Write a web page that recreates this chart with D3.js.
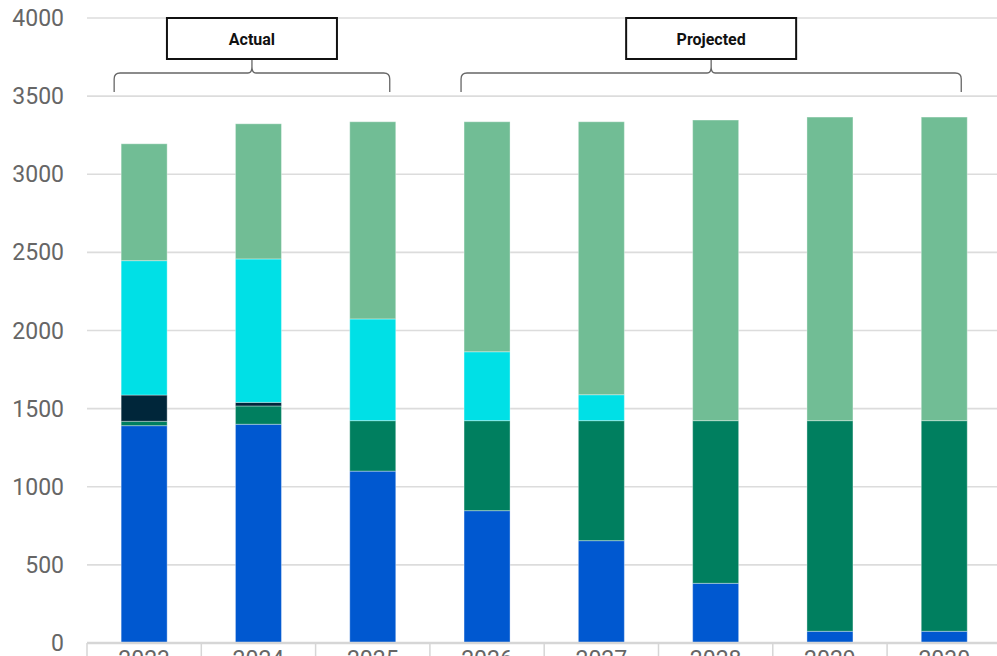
<!DOCTYPE html>
<html>
<head>
    <title>Stacked</title>
    <script src="https://cdn.jsdelivr.net/npm/d3@7"></script>
    <style>
        body { margin: 0; background: #fff; }
    </style>
</head>
<body>
    <svg width="997" height="656" id="mainsvg"></svg>
    <script>
        // data
        const years = ['2023', '2024', '2025', '2026', '2027', '2028', '2029', '2030'];
        const blue = [1391, 1400, 1100, 847, 655, 382, 75, 75];
        const darkGreen = [28, 117, 323, 576, 768, 1041, 1348, 1348];
        const navy = [168, 23, 0, 0, 0, 0, 0, 0];
        const cyan = [860, 918, 651, 441, 166, 0, 0, 0];
        const lightGreen = [748, 865, 1262, 1472, 1747, 1924, 1943, 1943];
        const seriesNames = ['blue', 'darkGreen', 'navy', 'cyan', 'lightGreen'];
        const seriesColors = ['#0058d0', '#007f5f', '#00263a', '#00e0e6', '#71bd95'];
        const yTicks = [0, 500, 1000, 1500, 2000, 2500, 3000, 3500, 4000];
        const groups = [
            { label: 'Actual', from: '2023', to: '2025' },
            { label: 'Projected', from: '2026', to: '2030' }
        ];

        const svg = d3.select('svg');
        const margin = { left: 87, top: 18, bottom: 643 };
        const plotRight = 87 + 114.3 * years.length;

        const table = years.map((y, i) => ({
            year: y, blue: blue[i], darkGreen: darkGreen[i], navy: navy[i], cyan: cyan[i], lightGreen: lightGreen[i]
        }));
        const stacked = d3.stack().keys(seriesNames)(table);

        const x = d3.scaleBand().domain(years).range([margin.left, plotRight]).paddingInner(0).paddingOuter(0);
        const y = d3.scaleLinear().domain([0, 4000]).range([margin.bottom, margin.top]);
        const barW = 46;

        // gridlines
        svg.selectAll('.grid').data(yTicks.filter(d => d > 0)).join('line').attr('class', 'grid')
            .attr('x1', margin.left).attr('x2', 997)
            .attr('y1', d => y(d)).attr('y2', d => y(d))
            .attr('stroke', '#dcdcdc').attr('stroke-width', 1.6);

        // y labels
        svg.selectAll('.ylab').data(yTicks).join('text').attr('class', 'ylab')
            .attr('x', 64).attr('y', d => y(d)).attr('dy', '0.35em')
            .attr('text-anchor', 'end')
            .attr('font-family', 'Roboto, sans-serif').attr('font-size', 23)
            .attr('fill', '#666')
            .text(d => d);

        // bars
        svg.selectAll('.layer').data(stacked).join('g').attr('class', 'layer')
            .attr('fill', (d, i) => seriesColors[i])
            .selectAll('rect').data(d => d.filter(p => p[1] - p[0] > 0)).join('rect')
            .attr('x', d => x(d.data.year) + (x.bandwidth() - barW) / 2)
            .attr('width', barW)
            .attr('y', d => y(d[1]))
            .attr('height', d => y(d[0]) - y(d[1]))
            .attr('stroke', 'rgba(255,255,255,0.35)').attr('stroke-width', 1);

        // x axis line + ticks
        svg.append('line')
            .attr('x1', margin.left).attr('x2', 997)
            .attr('y1', margin.bottom).attr('y2', margin.bottom)
            .attr('stroke', '#d6d6d6').attr('stroke-width', 2.5);
        svg.selectAll('.xtick').data(years).join('line').attr('class', 'xtick')
            .attr('x1', d => x(d)).attr('x2', d => x(d))
            .attr('y1', margin.bottom).attr('y2', 660)
            .attr('stroke', '#d6d6d6').attr('stroke-width', 1.5);
        svg.selectAll('.xlab').data(years).join('text').attr('class', 'xlab')
            .attr('x', d => x(d) + x.bandwidth() / 2).attr('y', 667)
            .attr('text-anchor', 'middle')
            .attr('font-family', 'Roboto, sans-serif').attr('font-size', 23)
            .attr('fill', '#666')
            .text(d => d);

        // group braces and boxes
        const braceTop = 73, braceBottom = 92, r = 6;
        groups.forEach((g, gi) => {
            const x0 = x(g.from) + (x.bandwidth() - barW) / 2 - (gi === 0 ? 7 : 3);
            const x1 = x(g.to) + (x.bandwidth() + barW) / 2 - 6;
            const mid = (x0 + x1) / 2;
            const path = `M ${x0} ${braceBottom} L ${x0} ${braceTop + r} Q ${x0} ${braceTop} ${x0 + r} ${braceTop}`
                + ` L ${mid - 4} ${braceTop} Q ${mid} ${braceTop} ${mid} ${braceTop - 6} L ${mid} 59`
                + ` M ${mid} ${braceTop - 6} Q ${mid} ${braceTop} ${mid + 4} ${braceTop}`
                + ` L ${x1 - r} ${braceTop} Q ${x1} ${braceTop} ${x1} ${braceTop + r} L ${x1} ${braceBottom}`;
            svg.append('path').attr('d', path).attr('fill', 'none')
                .attr('stroke', '#666').attr('stroke-width', 1.3);
            svg.append('rect')
                .attr('x', mid - 85).attr('y', 18).attr('width', 170).attr('height', 41)
                .attr('fill', '#fff').attr('stroke', '#111').attr('stroke-width', 2);
            svg.append('text')
                .attr('x', mid).attr('y', 39).attr('dy', '0.35em')
                .attr('text-anchor', 'middle')
                .attr('font-family', 'Roboto, sans-serif').attr('font-weight', 'bold').attr('font-size', 16)
                .attr('fill', '#111')
                .text(g.label);
        });
    </script>
</body>
</html>
